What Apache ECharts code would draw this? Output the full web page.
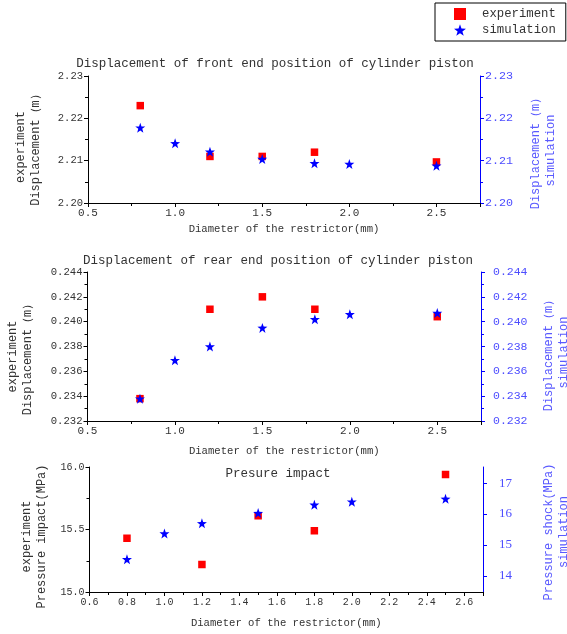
<!DOCTYPE html>
<html>
<head>
<meta charset="utf-8">
<script src="https://cdn.jsdelivr.net/npm/echarts@6/dist/echarts.min.js"></script>
<style>html,body{margin:0;padding:0;background:#fff}#c{width:567px;height:634px}</style>
</head>
<body>
<div id="c"></div>
<script>
// ---- data ----
const diamExp = [0.8, 1.2, 1.5, 1.8, 2.5];
const diamSim = [0.8, 1.0, 1.2, 1.5, 1.8, 2.0, 2.5];
const frontExp = [2.2230, 2.2110, 2.2110, 2.2120, 2.2097];
const frontSim = [2.2178, 2.2141, 2.2121, 2.2104, 2.2094, 2.2092, 2.2088];
const rearExp = [0.2338, 0.2410, 0.2420, 0.2410, 0.2404];
const rearSim = [0.2338, 0.2369, 0.2380, 0.2395, 0.2402, 0.2406, 0.2407];
const presExp = [15.43, 15.22, 15.61, 15.49, 15.94];
const presSim = [14.54, 15.37, 15.70, 16.03, 16.30, 16.40, 16.49];
const presSimTicks = [14, 15, 16, 17];
const titles = ['Displacement of front end position of cylinder piston',
                'Displacement of rear end position of cylinder piston',
                'Presure impact'];
const xName = 'Diameter of the restrictor(mm)';

const MONO = '"Liberation Mono", "DejaVu Sans Mono", monospace';
const SERIF = '"Liberation Serif", "DejaVu Serif", serif';
const STAR = 'path://M0,-10L2.35,-3.24L9.51,-3.09L3.8,1.24L5.88,8.09L0,4L-5.88,8.09L-3.8,1.24L-9.51,-3.09L-2.35,-3.24Z';
const SQUARE = 'path://M0,0L10,0L10,10L0,10Z';
const TXT = '#333';
const BLUE = '#0000ff';
const LBLUE = '#4d4dff';

const pairs = (xs, ys) => xs.map((x, i) => [x, ys[i]]);

const grids = [
  {left: 88, right: 87, top: 76, height: 127, outerBoundsMode: 'none', containLabel: false},
  {left: 87.5, right: 86, top: 272, height: 149, outerBoundsMode: 'none', containLabel: false},
  {left: 89.5, right: 84, top: 467, height: 125, outerBoundsMode: 'none', containLabel: false}
];

function xAxis(idx, min, max, interval, gap, labSize) {
  return {
    type: 'value', gridIndex: idx, min: min, max: max, interval: interval,
    name: xName, nameLocation: 'middle', nameGap: gap,
    nameTextStyle: {color: TXT, fontFamily: MONO, fontSize: 10.6},
    axisLine: {show: true, onZero: false, lineStyle: {color: '#000', width: 1}},
    axisTick: {show: true, length: 4, lineStyle: {color: '#000'}},
    minorTick: {show: true, splitNumber: 2, length: 3, lineStyle: {color: '#000'}},
    splitLine: {show: false},
    axisLabel: {color: TXT, fontFamily: MONO, fontSize: labSize, margin: 5, showMaxLabel: false,
      formatter: v => v.toFixed(1)}
  };
}

function yLeft(idx, min, max, interval, dec, name, gap, labSize, pad) {
  return {
    type: 'value', gridIndex: idx, position: 'left', min: min, max: max, interval: interval,
    name: name, nameLocation: 'middle', nameGap: gap,
    nameTextStyle: {color: TXT, fontFamily: MONO, fontSize: 12, lineHeight: 15, padding: pad},
    axisLine: {show: true, lineStyle: {color: '#000', width: 1}},
    axisTick: {show: true, length: 4, lineStyle: {color: '#000'}},
    minorTick: {show: true, splitNumber: 2, length: 3, lineStyle: {color: '#000'}},
    splitLine: {show: false},
    axisLabel: {color: TXT, fontFamily: MONO, fontSize: labSize, margin: 5,
      formatter: v => v.toFixed(dec)}
  };
}

function yRight(idx, min, max, interval, dec, name, gap, labSize, margin, pad) {
  return {
    type: 'value', gridIndex: idx, position: 'right', min: min, max: max, interval: interval,
    name: name, nameLocation: 'middle', nameGap: gap,
    nameTextStyle: {color: '#5a5aff', fontFamily: MONO, fontSize: 12, lineHeight: 15, padding: pad},
    axisLine: {show: true, lineStyle: {color: BLUE, width: 1}},
    axisTick: {show: true, length: 4, lineStyle: {color: BLUE}},
    minorTick: {show: true, splitNumber: 2, length: 3, lineStyle: {color: BLUE}},
    splitLine: {show: false},
    axisLabel: {color: LBLUE, fontFamily: MONO, fontSize: labSize, margin: margin,
      formatter: v => v.toFixed(dec)}
  };
}

const y6 = {
  type: 'value', gridIndex: 2, position: 'right', min: 13.48, max: 17.52,
  name: 'Pressure shock(MPa)\nsimulation', nameLocation: 'middle', nameGap: 58,
  nameTextStyle: {color: '#5a5aff', fontFamily: MONO, fontSize: 12, lineHeight: 15, padding: [0, 5, 0, 0]},
  axisLine: {show: true, lineStyle: {color: BLUE, width: 1}},
  axisTick: {show: true, length: 4, lineStyle: {color: BLUE}, customValues: presSimTicks},
  splitLine: {show: false},
  axisLabel: {color: LBLUE, fontFamily: SERIF, fontSize: 13, margin: 16, customValues: presSimTicks,
    formatter: v => String(Math.round(v))}
};

function sc(name, xi, yi, data, isExp) {
  return {
    name: name, type: 'scatter', xAxisIndex: xi, yAxisIndex: yi, data: data,
    symbol: isExp ? 'rect' : STAR, symbolSize: isExp ? 7.5 : 10,
    itemStyle: {color: isExp ? '#ff0000' : BLUE, opacity: 1},
    z: isExp ? 2 : 3
  };
}

const option = {
  animation: false,
  backgroundColor: '#fff',
  title: [
    {text: titles[0], left: 270, top: 52, textAlign: 'center',
     textStyle: {color: TXT, fontFamily: MONO, fontSize: 12.5, fontWeight: 'normal'}},
    {text: titles[1], left: 273, top: 249, textAlign: 'center',
     textStyle: {color: TXT, fontFamily: MONO, fontSize: 12.5, fontWeight: 'normal'}},
    {text: titles[2], left: 273, top: 462, textAlign: 'center',
     textStyle: {color: TXT, fontFamily: MONO, fontSize: 12.5, fontWeight: 'normal'}}
  ],
  legend: {
    orient: 'vertical', left: 435, top: 3,
    padding: [5, 10, 5, 19], itemGap: 4, itemWidth: 12, itemHeight: 12,
    borderColor: '#000', borderWidth: 1, backgroundColor: '#fff',
    textStyle: {color: TXT, fontFamily: MONO, fontSize: 12.3, padding: [0, 0, 0, 11]},
    data: [{name: 'experiment', icon: SQUARE}, {name: 'simulation', icon: STAR}]
  },
  grid: grids,
  xAxis: [
    xAxis(0, 0.5, 2.75, 0.5, 21, 11),
    xAxis(1, 0.5, 2.75, 0.5, 25, 11),
    xAxis(2, 0.6, 2.7, 0.2, 26, 10)
  ],
  yAxis: [
    yLeft(0, 2.20, 2.23, 0.01, 2, 'experiment\nDisplacement（m）', 45, 10.5, [0, 15, 0, 0]),
    yRight(0, 2.20, 2.23, 0.01, 2, 'Displacement（m）\nsimulation', 48, 11.7, 5, [0, 22, 0, 0]),
    yLeft(1, 0.232, 0.244, 0.002, 3, 'experiment\nDisplacement（m）', 52, 10.6, [0, 20, 0, 0]),
    yRight(1, 0.232, 0.244, 0.002, 3, 'Displacement（m）\nsimulation', 60, 11.5, 12, [0, 12, 0, 0]),
    yLeft(2, 15.0, 16.0, 0.5, 1, 'experiment\nPressure impact(MPa)', 40, 10, [0, 14, 0, 0]),
    y6
  ],
  series: [
    sc('experiment', 0, 0, pairs(diamExp, frontExp), true),
    sc('simulation', 0, 1, pairs(diamSim, frontSim), false),
    sc('experiment', 1, 2, pairs(diamExp, rearExp), true),
    sc('simulation', 1, 3, pairs(diamSim, rearSim), false),
    sc('experiment', 2, 4, pairs(diamExp, presExp), true),
    sc('simulation', 2, 5, pairs(diamSim, presSim), false)
  ]
};

const chart = echarts.init(document.getElementById('c'), null, {renderer: 'canvas'});
chart.setOption(option);
</script>
</body>
</html>
